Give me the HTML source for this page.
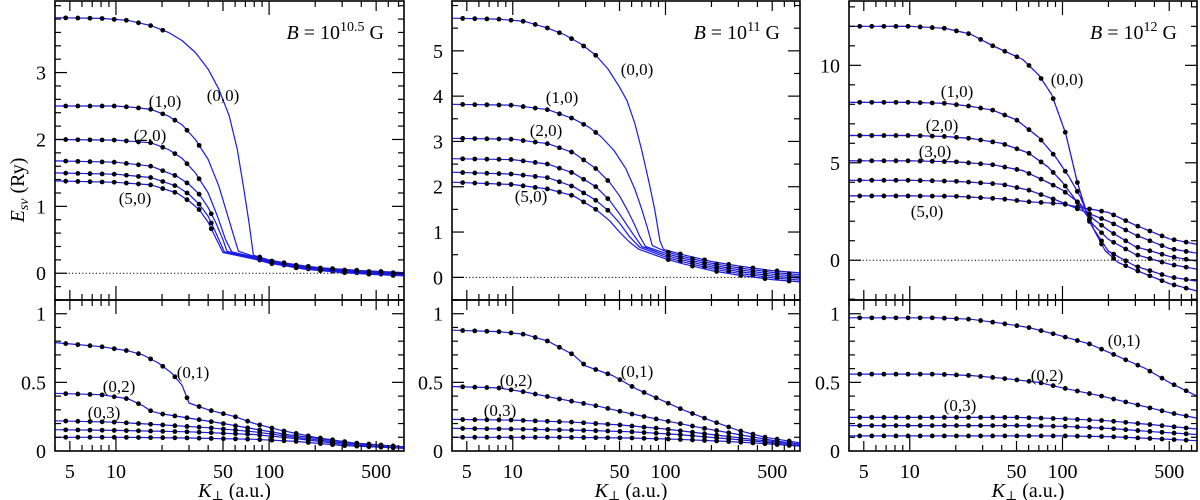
<!DOCTYPE html>
<html><head><meta charset="utf-8"><style>
html,body{margin:0;padding:0;background:#fff}
svg{display:block}
text{font-family:"Liberation Serif","DejaVu Serif",serif;fill:#000}
</style></head><body>
<svg id="chart" width="1200" height="500" viewBox="0 0 1200 500" xmlns="http://www.w3.org/2000/svg">
<text transform="translate(24,190) rotate(-90)" font-size="20" text-anchor="middle"><tspan font-style="italic">E</tspan><tspan font-size="14" dy="4" font-style="italic">sν</tspan><tspan dy="-4">  (Ry)</tspan></text>
</svg>
<script>
// ---------- data ----------
const xTickLabels = [5, 10, 50, 100, 500];
const upperTicks1 = [0, 1, 2, 3];
const upperTicks2 = [0, 1, 2, 3, 4, 5];
const upperTicks3 = [0, 5, 10];
const lowerTicks = [0, 0.5, 1];
const upperLabels = ["(0,0)", "(1,0)", "(2,0)", "(3,0)", "(4,0)", "(5,0)"];
const lowerLabels = ["(0,1)", "(0,2)", "(0,3)", "(0,4)", "(0,5)"];
const panelTitles = ["10.5", "11", "12"];

// Panel 1 (B=10^10.5 G) upper
const p1u00 = [[4,3.82],[8,3.81],[12,3.78],[17,3.7],[22,3.6],[27,3.48],[33,3.3],[40,3.05],[47,2.75],[55,2.35],[62,1.85],[68,1.3],[74,0.75],[79,0.27],[100,0.2],[130,0.15],[170,0.11],[220,0.08],[300,0.06],[400,0.04],[500,0.03],[760,0.01]];
const p1u10 = [[4,2.5],[10,2.5],[13,2.48],[17,2.45],[22,2.35],[27,2.22],[33,2.0],[40,1.7],[47,1.3],[53,0.9],[58,0.6],[63,0.33],[80,0.25],[100,0.19],[170,0.1],[300,0.05],[500,0.02],[760,0.0]];
const p1u20 = [[4,2.0],[10,1.99],[17,1.95],[22,1.85],[27,1.72],[33,1.5],[40,1.2],[46,0.85],[52,0.5],[57,0.32],[80,0.24],[100,0.18],[170,0.09],[300,0.04],[500,0.01],[760,-0.01]];
const p1u30 = [[4,1.68],[10,1.66],[17,1.6],[25,1.45],[30,1.33],[35,1.18],[40,0.98],[45,0.75],[50,0.5],[53,0.33],[80,0.23],[100,0.17],[170,0.08],[300,0.03],[500,0.0],[760,-0.02]];
const p1u40 = [[4,1.5],[10,1.48],[17,1.43],[25,1.3],[30,1.18],[35,1.03],[40,0.85],[45,0.6],[51,0.32],[80,0.22],[100,0.16],[170,0.07],[300,0.02],[500,-0.01],[760,-0.03]];
const p1u50 = [[4,1.38],[10,1.36],[17,1.32],[25,1.2],[30,1.08],[35,0.95],[40,0.76],[45,0.52],[50,0.31],[80,0.21],[100,0.15],[170,0.06],[300,0.01],[500,-0.02],[760,-0.04]];
// Panel 1 lower
const p1l01 = [[4,0.79],[5,0.78],[8,0.76],[12,0.73],[15,0.7],[19,0.64],[23,0.57],[27,0.48],[30,0.35],[40,0.3],[60,0.25],[80,0.2],[120,0.15],[200,0.1],[350,0.06],[760,0.03]];
const p1l02 = [[4,0.42],[8,0.41],[12,0.38],[15,0.33],[17,0.29],[20,0.27],[30,0.24],[50,0.2],[80,0.16],[130,0.12],[250,0.08],[400,0.05],[760,0.03]];
const p1l03 = [[4,0.22],[10,0.21],[20,0.19],[40,0.17],[80,0.14],[150,0.1],[300,0.06],[760,0.03]];
const p1l04 = [[4,0.155],[10,0.15],[30,0.14],[80,0.12],[150,0.09],[300,0.05],[760,0.02]];
const p1l05 = [[4,0.1],[10,0.1],[30,0.095],[80,0.085],[150,0.07],[300,0.04],[760,0.02]];

// Panel 2 (B=10^11 G) upper
const p2u00 = [[4,5.72],[8,5.7],[12,5.65],[17,5.5],[22,5.35],[28,5.15],[35,4.9],[42,4.6],[50,4.2],[56,3.9],[63,3.4],[70,2.8],[78,2.1],[85,1.5],[92,0.8],[97,0.62],[130,0.5],[200,0.35],[300,0.25],[500,0.15],[760,0.1]];
const p2u10 = [[4,3.82],[10,3.8],[17,3.7],[25,3.5],[32,3.3],[38,3.1],[46,2.8],[55,2.4],[63,1.95],[70,1.5],[76,1.1],[82,0.7],[100,0.57],[130,0.46],[200,0.31],[300,0.21],[500,0.11],[760,0.06]];
const p2u20 = [[4,3.07],[10,3.05],[17,2.95],[25,2.75],[35,2.4],[43,2.1],[50,1.8],[56,1.5],[62,1.2],[68,0.9],[74,0.68],[100,0.53],[130,0.42],[200,0.27],[300,0.17],[500,0.07],[760,0.02]];
const p2u30 = [[4,2.62],[10,2.6],[17,2.5],[25,2.3],[35,2.0],[43,1.7],[50,1.4],[60,1.0],[70,0.68],[100,0.49],[130,0.38],[200,0.23],[300,0.13],[500,0.03],[760,-0.02]];
const p2u40 = [[4,2.32],[10,2.28],[17,2.2],[25,2.0],[35,1.7],[43,1.45],[50,1.2],[58,0.9],[68,0.66],[100,0.45],[130,0.34],[200,0.19],[300,0.09],[500,-0.01],[760,-0.06]];
const p2u50 = [[4,2.1],[10,2.05],[17,1.95],[25,1.8],[35,1.5],[43,1.25],[50,1.0],[58,0.78],[67,0.62],[100,0.41],[130,0.3],[200,0.15],[300,0.05],[500,-0.05],[760,-0.1]];
// Panel 2 lower
const p2l01 = [[4,0.88],[8,0.87],[12,0.85],[17,0.8],[25,0.7],[30,0.62],[45,0.55],[65,0.45],[90,0.38],[130,0.3],[200,0.22],[300,0.15],[450,0.1],[760,0.06]];
const p2l02 = [[4,0.47],[8,0.46],[12,0.43],[20,0.38],[35,0.33],[60,0.27],[100,0.22],[170,0.17],[300,0.12],[550,0.07],[760,0.05]];
const p2l03 = [[4,0.23],[10,0.225],[25,0.21],[50,0.19],[100,0.16],[200,0.12],[400,0.08],[760,0.05]];
const p2l04 = [[4,0.165],[10,0.16],[30,0.15],[60,0.14],[120,0.12],[250,0.09],[500,0.06],[760,0.04]];
const p2l05 = [[4,0.1],[20,0.1],[60,0.095],[120,0.085],[250,0.07],[500,0.05],[760,0.035]];

// Panel 3 (B=10^12 G) upper
const p3u00 = [[4,12.0],[10,12.0],[17,11.9],[25,11.6],[35,11.0],[55,10.3],[70,9.5],[85,8.5],[105,6.5],[125,4.0],[150,2.0],[190,0.5],[230,-0.1],[300,-0.5],[500,-1.2],[760,-1.58]];
const p3u10 = [[4,8.1],[10,8.1],[17,8.05],[25,7.9],[35,7.7],[50,7.2],[70,6.3],[90,5.3],[110,4.3],[130,3.3],[160,1.6],[200,0.46],[300,-0.3],[500,-0.85],[760,-1.07]];
const p3u20 = [[4,6.4],[10,6.4],[17,6.35],[25,6.25],[40,6.0],[60,5.5],[80,4.8],[100,4.0],[130,2.8],[160,1.8],[200,1.07],[300,0.3],[500,-0.2],[760,-0.46]];
const p3u30 = [[4,5.1],[10,5.1],[20,5.05],[35,4.9],[55,4.6],[80,4.0],[100,3.6],[130,2.9],[160,2.1],[200,1.53],[300,0.7],[500,0.2],[760,-0.05]];
const p3u40 = [[4,4.1],[10,4.1],[20,4.05],[40,3.9],[60,3.6],[90,3.1],[120,2.7],[160,2.3],[200,2.0],[300,1.3],[500,0.6],[760,0.36]];
const p3u50 = [[4,3.3],[10,3.3],[20,3.28],[40,3.15],[60,3.0],[100,2.9],[130,2.7],[160,2.6],[200,2.45],[300,1.8],[500,1.1],[760,0.82]];
// Panel 3 lower
const p3l01 = [[4,0.97],[15,0.97],[25,0.96],[40,0.93],[60,0.9],[90,0.85],[150,0.78],[220,0.7],[350,0.6],[500,0.5],[760,0.4]];
const p3l02 = [[4,0.56],[15,0.56],[25,0.55],[40,0.53],[70,0.5],[100,0.46],[180,0.4],[300,0.34],[500,0.28],[760,0.24]];
const p3l03 = [[4,0.245],[50,0.245],[100,0.235],[200,0.22],[400,0.19],[760,0.16]];
const p3l04 = [[4,0.185],[50,0.185],[100,0.18],[200,0.165],[400,0.14],[760,0.12]];
const p3l05 = [[4,0.11],[100,0.11],[200,0.105],[400,0.09],[760,0.075]];

const NS = "http://www.w3.org/2000/svg";
const svg = document.getElementById("chart");
function mk(tag, attrs, parent) {
  const e = document.createElementNS(NS, tag);
  for (const k in attrs) e.setAttribute(k, attrs[k]);
  (parent || svg).appendChild(e);
  return e;
}
const XMIN = 4, XMAX = 760;
const TOP = 1, MID = 300, BOT = 451;

const panels = [
  { left: 55, right: 404, uRange: [-0.4, 4.07], uTicks: upperTicks1, uMinor: 0.2,
    upper: [p1u00, p1u10, p1u20, p1u30, p1u40, p1u50], uDotMax: [23, 38, 40, 42, 45, 47], tailDots: 85,
    lower: [p1l01, p1l02, p1l03, p1l04, p1l05], red: false,
    uLab: [[223,95],[165,101],[150,135],null,null,[135,198]], lLab: [[193,372],[119,386],[104,412]] },
  { left: 452, right: 800, uRange: [-0.5, 6.1], uTicks: upperTicks2, uMinor: 0.5,
    upper: [p2u00, p2u10, p2u20, p2u30, p2u40, p2u50], uDotMax: [40, 40, 45, 47, 50, 40], tailDots: 100,
    lower: [p2l01, p2l02, p2l03, p2l04, p2l05], red: false,
    uLab: [[637,69],[562,97],[546,130],null,null,[531,196]], lLab: [[637,371],[516,380],[500,410]] },
  { left: 849, right: 1197, uRange: [-2.04, 13.3], uTicks: upperTicks3, uMinor: 1,
    upper: [p3u00, p3u10, p3u20, p3u30, p3u40, p3u50], uDotMax: [760, 760, 760, 760, 760, 760], tailDots: 9999,
    lower: [p3l01, p3l02, p3l03, p3l04, p3l05], red: true,
    uLab: [[1067,79],[957,91],[942,125],[935,151],null,[927,211]], lLab: [[1124,340],[1047,375],[960,405]] }
];

function interp(d, k) {
  for (let i = 0; i < d.length - 1; i++) {
    if (k >= d[i][0] && k <= d[i+1][0]) {
      const t = (Math.log(k) - Math.log(d[i][0])) / (Math.log(d[i+1][0]) - Math.log(d[i][0]));
      return d[i][1] + t * (d[i+1][1] - d[i][1]);
    }
  }
  return d[d.length-1][1];
}

panels.forEach((p, pi) => {
  const g = mk("g", {});
  
  
  const xs = k => p.left + (Math.log10(k) - Math.log10(XMIN)) / (Math.log10(XMAX) - Math.log10(XMIN)) * (p.right - p.left);
  const yu = v => MID - (v - p.uRange[0]) / (p.uRange[1] - p.uRange[0]) * (MID - TOP);
  const yl = v => BOT - v / 1.1 * (BOT - MID);

  const z = mk("line", { x1: p.left, x2: p.right, y1: yu(0), y2: yu(0), stroke: "#000", "stroke-width": 1, "stroke-dasharray": "1.2,2.2" }, g);
  
  

  function drawSet(sets, ys, dotMax, sub) {
    sets.forEach((d, si) => {
      const pts = d.map(q => xs(q[0]).toFixed(1) + "," + ys(q[1]).toFixed(1)).join(" ");
      if (p.red && sub === 'upper') {
        const r = mk("polyline", { points: pts, fill: "none", stroke: "#e02020", "stroke-width": 1.2, "stroke-dasharray": "6,4" }, g);
        
        
      }
      const l = mk("polyline", { points: pts, fill: "none", stroke: "#1a1ae6", "stroke-width": 1.2, "stroke-linejoin": "round" }, g);
      
      
      const km = dotMax ? dotMax[si] : 760;
      let j = 0;
      for (let k = 4.7; k <= 720; k *= 1.2, j++) {
        const inHead = k <= km;
        const inTail = dotMax && k >= p.tailDots && (j % 2 === si % 2 || p.tailDots > 1000);
        if (!inHead && !inTail) continue;
        const c = mk("circle", { cx: xs(k), cy: ys(interp(d, k)), r: 2.4, fill: "#000" }, g);
        
        
      }
    });
  }
  drawSet(p.upper, yu, p.uDotMax, 'upper');
  drawSet(p.lower, yl, null, 'lower');

  [[TOP, MID], [MID, BOT]].forEach(([a, b], fi) => {
    const r = mk("rect", { x: p.left, y: a, width: p.right - p.left, height: b - a, fill: "none", stroke: "#000", "stroke-width": 1.6 }, g);
    
    
    for (let dec = 1; dec <= 1000; dec *= 10) {
      for (let m = 1; m <= 9; m++) {
        const k = m * dec;
        if (k < XMIN || k > XMAX) continue;
        const len = (m === 1) ? 14 : (m === 5 ? 10 : 6);
        mk("line", { x1: xs(k), x2: xs(k), y1: a, y2: a + len, stroke: "#000", "stroke-width": 1.2 }, g);
        mk("line", { x1: xs(k), x2: xs(k), y1: b, y2: b - len, stroke: "#000", "stroke-width": 1.2 }, g);
      }
    }
  });
  const ys0 = Math.ceil(p.uRange[0] / p.uMinor) * p.uMinor;
  for (let v = ys0; v <= p.uRange[1]; v += p.uMinor) {
    const major = p.uTicks.some(t => Math.abs(t - v) < 1e-6);
    const len = major ? 12 : 6, y = yu(v);
    mk("line", { x1: p.left, x2: p.left + len, y1: y, y2: y, stroke: "#000", "stroke-width": 1.2 }, g);
    mk("line", { x1: p.right, x2: p.right - len, y1: y, y2: y, stroke: "#000", "stroke-width": 1.2 }, g);
  }
  for (let v = 0.1; v < 1.1; v += 0.1) {
    const major = lowerTicks.some(t => Math.abs(t - v) < 1e-6);
    const len = major ? 12 : 6, y = yl(v);
    mk("line", { x1: p.left, x2: p.left + len, y1: y, y2: y, stroke: "#000", "stroke-width": 1.2 }, g);
    mk("line", { x1: p.right, x2: p.right - len, y1: y, y2: y, stroke: "#000", "stroke-width": 1.2 }, g);
  }
  p.uTicks.forEach(t => {
    const e = mk("text", { x: p.left - 9, y: yu(t) + 7, "font-size": 20, "text-anchor": "end" }, g);
    e.textContent = t;
    
    
  });
  lowerTicks.forEach(t => {
    const e = mk("text", { x: p.left - 9, y: yl(t) + 7, "font-size": 20, "text-anchor": "end" }, g);
    e.textContent = t;
    
    
  });
  xTickLabels.forEach(t => {
    const e = mk("text", { x: xs(t), y: 478, "font-size": 20, "text-anchor": "middle" }, g);
    e.textContent = t;
    
    
  });
  const xl = mk("text", { x: (p.left + p.right) / 2 + 5, y: 497, "font-size": 20, "text-anchor": "middle" }, g);
  xl.innerHTML = '<tspan font-style="italic">K</tspan><tspan font-size="13" dy="3">⊥</tspan><tspan dy="-3">  (a.u.)</tspan>';
  
  
  const tt = mk("text", { x: p.right - 20, y: 39, "font-size": 20, "text-anchor": "end" }, g);
  tt.innerHTML = '<tspan font-style="italic">B</tspan> = 10<tspan font-size="14" dy="-8">' + panelTitles[pi] + '</tspan><tspan dy="8">  G</tspan>';
  
  
  p.uLab.forEach((pos, i) => {
    if (!pos) return;
    const e = mk("text", { x: pos[0], y: pos[1] + 6, "font-size": 17, "text-anchor": "middle" }, g);
    e.textContent = upperLabels[i];
    
    
  });
  p.lLab.forEach((pos, i) => {
    const e = mk("text", { x: pos[0], y: pos[1] + 6, "font-size": 17, "text-anchor": "middle" }, g);
    e.textContent = lowerLabels[i];
    
    
  });
});
</script>
</body></html>
